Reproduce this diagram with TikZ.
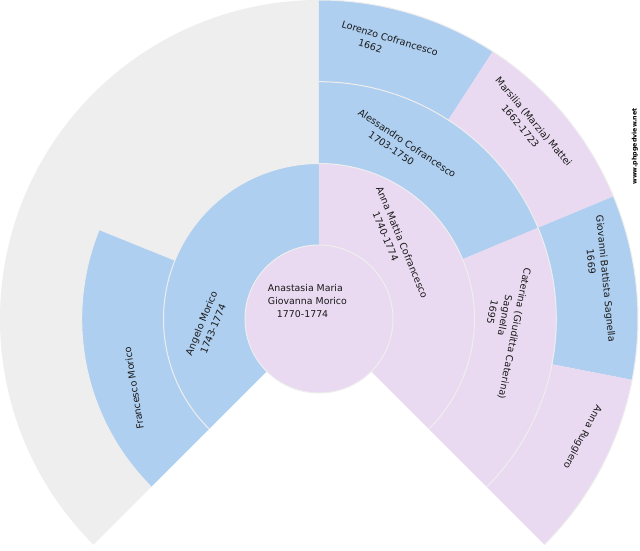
\documentclass[tikz,border=0pt]{standalone}
\usepackage{fontspec}
\setmainfont{DejaVu Sans}
\definecolor{maleblue}{HTML}{AFCFF0}
\definecolor{femalepink}{HTML}{E9DAF1}
\definecolor{unknowngrey}{HTML}{EEEEEE}
\definecolor{seamgrey}{HTML}{EEEEEE}
\newcommand{\fanseg}[5]{%
  \fill[#5] (#1:#4pt) arc[start angle=#1,end angle=#2,radius=#4pt] -- (#2:#3pt) arc[start angle=#2,end angle=#1,radius=#3pt] -- cycle;
  \draw[seam] (#1:#4pt) arc[start angle=#1,end angle=#2,radius=#4pt];
}
\newcommand{\fanlab}[5]{%
  \node[fanlabel,rotate=#4,anchor=north west] (#1) at ([shift={({#4+90}:4.5pt)}]{#2-319},{319-#3}) {#5};
}
\begin{document}
\begin{tikzpicture}[x=1pt,y=1pt,
  seam/.style={draw=seamgrey,line width=1pt},
  fanlabel/.style={inner sep=0pt,outer sep=0pt,align=left,text=black!90,font=\fontsize{9.6}{13}\selectfont},
  rootlabel/.style={fanlabel,font=\fontsize{9.4}{13}\selectfont}]
\useasboundingbox (-319,-231) rectangle (321,319);
\fill[white] (-319,-231) rectangle (321,319);
% generation 3
\fill[unknowngrey] (225:319pt) arc[start angle=225,end angle=90,radius=319pt] -- (90:155.5pt) arc[start angle=90,end angle=158,radius=155.5pt] -- (158:237.3pt) arc[start angle=158,end angle=225,radius=237.3pt] -- cycle;
\fanseg{90}{57}{237.3}{319}{maleblue}
\fanseg{57}{22.6}{237.3}{319}{femalepink}
\fanseg{22.6}{-11}{237.3}{319}{maleblue}
\fanseg{-11}{-45}{237.3}{319}{femalepink}
% generation 2
\fanseg{225}{158}{155.5}{237.3}{maleblue}
\fanseg{90}{22.6}{155.5}{237.3}{maleblue}
\fanseg{22.6}{-45}{155.5}{237.3}{femalepink}
% generation 1
\fanseg{225}{90}{74}{155.5}{maleblue}
\fanseg{90}{-45}{74}{155.5}{femalepink}
% root
\fill[femalepink] (0,0) circle[radius=74pt];
\draw[seam] (0,0) circle[radius=74pt];
% labels
\node[rootlabel,anchor=north west] (root) at (268-319,319-284.5) {Anastasia Maria\\Giovanna Morico\\\hspace*{9pt}1770-1774};
\fanlab{angelo}{189}{355}{67.5}{Angelo Morico\\\hspace*{7pt}1743-1774}
\fanlab{annam}{378.5}{187}{-67.5}{Anna Mattia Cofrancesco\\\hspace*{22pt}1740-1774}
\fanlab{francesco}{141}{429}{99}{Francesco Morico}
\fanlab{alessandro}{359}{112}{-33.75}{Alessandro Cofrancesco\\\hspace*{21pt}1703-1750}
\fanlab{caterina}{527}{268}{-101.25}{Caterina (Giuditta Caterina)\\\hspace*{30pt}Sagnella\\\hspace*{38pt}1695}
\fanlab{lorenzo}{342}{24.5}{-16.875}{Lorenzo Cofrancesco\\\hspace*{21pt}1662}
\fanlab{marsilia}{497}{79}{-50}{Marsilia (Marzia) Mattei\\\hspace*{25pt}1662-1723}
\fanlab{giovanni}{599}{215.5}{-84.375}{Giovanni Battista Sagnella\\\hspace*{33pt}1669}
\fanlab{annar}{599}{406}{-118.125}{Anna Ruggiero}
\node[inner sep=0pt,rotate=90,font=\bfseries\fontsize{6.3}{8}\selectfont] (site) at (635-319,319-146.5) {www.phpgedview.net};
\end{tikzpicture}
\end{document}
